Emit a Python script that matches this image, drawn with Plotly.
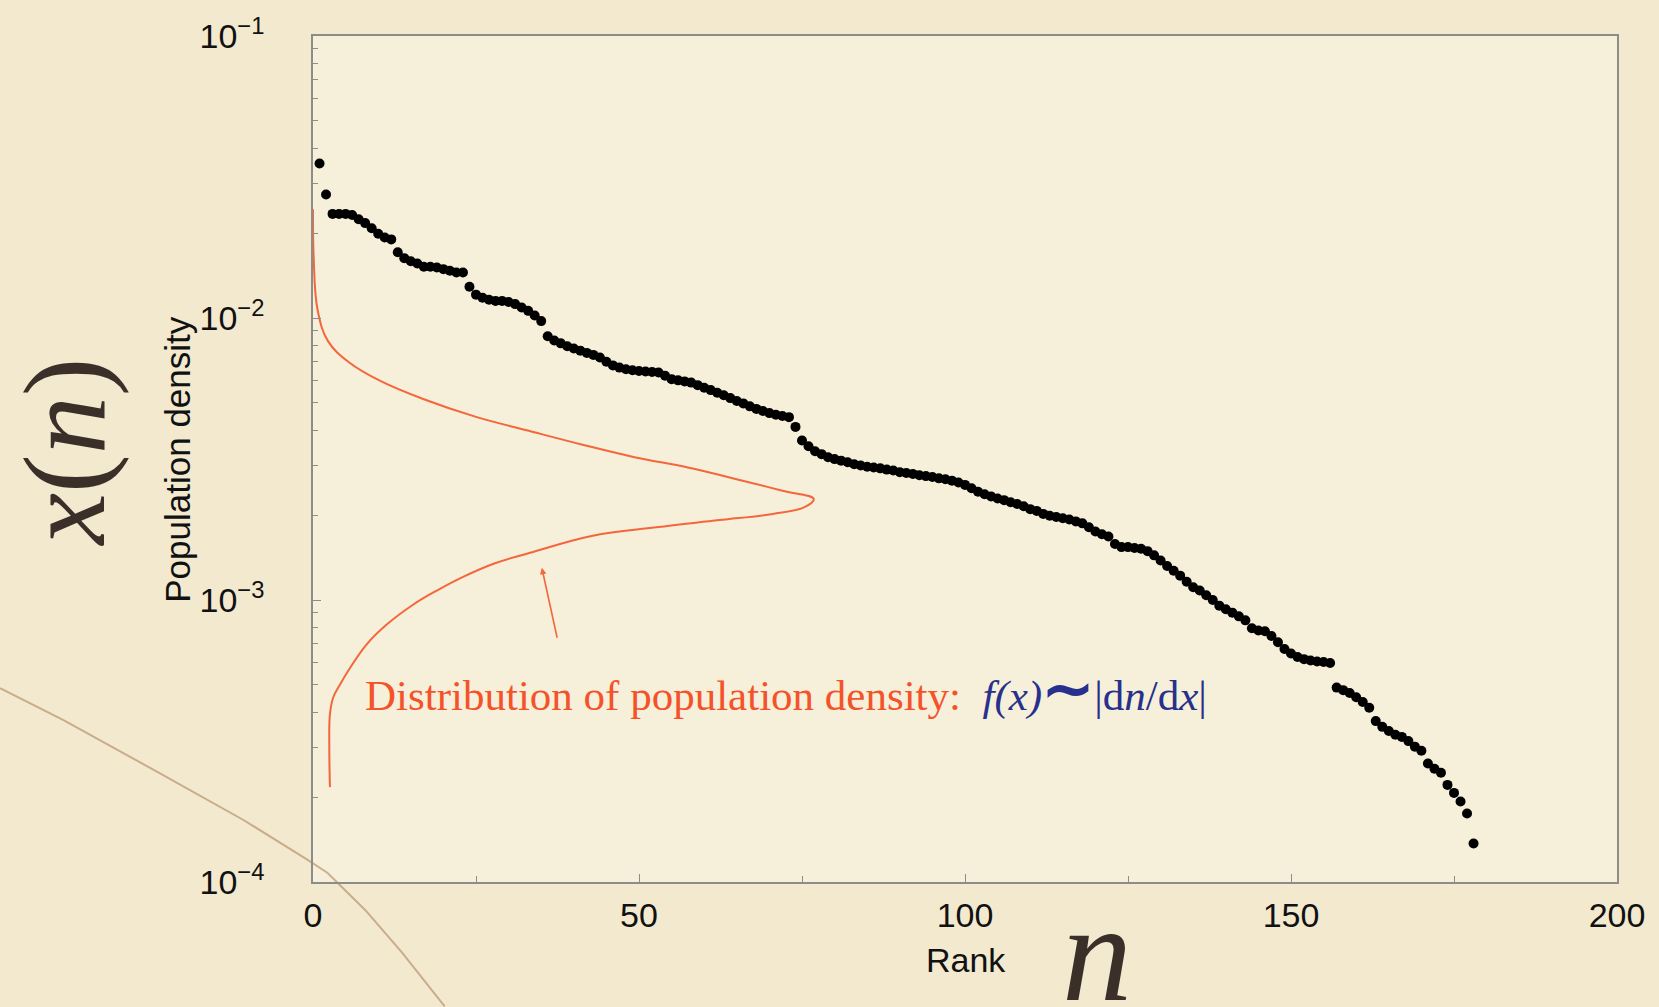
import numpy as np
import plotly.graph_objects as go

# population density by rank
density = [
    0.0353, 0.0274, 0.0234, 0.0234, 0.0234, 0.0232, 0.0224, 0.0217, 0.0208, 0.0199,
    0.0193, 0.0190, 0.0171, 0.0163, 0.0159, 0.0156, 0.0152, 0.0152, 0.0151, 0.0149,
    0.0147, 0.0145, 0.0145, 0.0129, 0.0121, 0.0118, 0.0116, 0.0115, 0.0115, 0.0114,
    0.0112, 0.0109, 0.0106, 0.0102, 0.00975, 0.00861, 0.00832, 0.00813, 0.00794, 0.00780,
    0.00766, 0.00752, 0.00740, 0.00724, 0.00700, 0.00679, 0.00667, 0.00658, 0.00653, 0.00649,
    0.00646, 0.00644, 0.00641, 0.00624, 0.00607, 0.00601, 0.00596, 0.00590, 0.00578, 0.00566,
    0.00555, 0.00543, 0.00532, 0.00520, 0.00508, 0.00498, 0.00486, 0.00476, 0.00468, 0.00460,
    0.00454, 0.00449, 0.00445, 0.00411, 0.00368, 0.00351, 0.00337, 0.00329, 0.00321, 0.00316,
    0.00312, 0.00308, 0.00303, 0.00300, 0.00297, 0.00295, 0.00293, 0.00290, 0.00288, 0.00284,
    0.00282, 0.00280, 0.00277, 0.00275, 0.00273, 0.00270, 0.00268, 0.00265, 0.00261, 0.00256,
    0.00249, 0.00242, 0.00237, 0.00233, 0.00229, 0.00226, 0.00222, 0.00219, 0.00215, 0.00210,
    0.00207, 0.00202, 0.00199, 0.00197, 0.00195, 0.00193, 0.00190, 0.00187, 0.00181, 0.00175,
    0.00171, 0.00168, 0.00158, 0.00154, 0.00154, 0.00153, 0.00152, 0.00149, 0.00144, 0.00138,
    0.00132, 0.00127, 0.00122, 0.00116, 0.00111, 0.00108, 0.00104, 0.00100, 0.000955, 0.000927,
    0.000902, 0.000875, 0.000847, 0.000794, 0.000780, 0.000775, 0.000745, 0.000708, 0.000670, 0.000646,
    0.000628, 0.000617, 0.000610, 0.000605, 0.000603, 0.000598, 0.000489, 0.000479, 0.000468, 0.000452,
    0.000435, 0.000415, 0.000372, 0.000355, 0.000343, 0.000333, 0.000327, 0.000316, 0.000302, 0.000292,
    0.000263, 0.000252, 0.000244, 0.000221, 0.000207, 0.000193, 0.000175, 0.000137,
]
rank = list(range(1, len(density) + 1))

# distribution f(x) drawn sideways (horizontal extent in rank units)
dist_n = [0, 0.1, 0.7, 2.3, 5.5, 10.4, 16.9, 25.0, 33.1, 41.2, 49.3, 57.5, 65.6, 72.0, 76.8,
          75.3, 70.5, 62.3, 52.6, 42.9, 33.3, 27.9, 23.1, 19.0, 15.4, 11.3, 8.2, 5.7, 4.15,
          3.1, 2.6, 2.5, 2.6]
dist_x = [0.0243, 0.0165, 0.0107, 0.00828, 0.00697, 0.00597, 0.00516, 0.00446, 0.00398, 0.00356,
          0.00321, 0.00295, 0.00266, 0.00244, 0.00228,
          0.00213, 0.00202, 0.00192, 0.00181, 0.00169, 0.00147, 0.00135, 0.00121, 0.00108,
          0.000964, 0.000818, 0.000695, 0.000575, 0.000502, 0.000451, 0.000394, 0.000302, 0.000217]

x_ticks = [0, 50, 100, 150, 200]
y_ticks = [1e-4, 1e-3, 1e-2, 1e-1]
y_ticktext = ["10<sup>\u22124</sup>", "10<sup>\u22123</sup>", "10<sup>\u22122</sup>", "10<sup>\u22121</sup>"]
y_minor = [m * 10.0 ** e for e in (-4, -3, -2) for m in range(2, 10)]

RED = "#f4532a"
CURVE = "#f4663c"
NAVY = "#27308c"
INK = "#3a3029"
AXIS = "#8c8c88"
SANS = "Liberation Sans, Arial, sans-serif"
SERIF = "Liberation Serif, Times New Roman, serif"

fig = go.Figure()

fig.add_trace(go.Scatter(
    x=dist_n, y=dist_x, mode="lines",
    line=dict(color=CURVE, width=2, shape="spline", smoothing=1.1),
    hoverinfo="skip", showlegend=False,
))

fig.add_trace(go.Scatter(
    x=rank, y=density, mode="markers",
    marker=dict(color="black", size=10),
    showlegend=False,
))

# arrow pointing at the distribution curve
fig.add_annotation(
    x=35.1, y=np.log10(0.00130), ax=37.5, ay=np.log10(0.000726),
    xref="x", yref="y", axref="x", ayref="y",
    showarrow=True, arrowhead=2, arrowsize=0.8, arrowwidth=1.6, arrowcolor=CURVE, text="",
)

fig.add_annotation(
    x=7.6, y=-3.316, xref="x", yref="y", xanchor="left", yanchor="middle",
    showarrow=False,
    text=(f"<span style='color:{RED}'>Distribution of population density:&nbsp; </span>"
          f"<span style='color:{NAVY}'><i>f(x)</i><b><span style='font-size:62px'>\u223c</span></b>"
          f"|d<i>n</i>/d<i>x</i>|</span>"),
    font=dict(family=SERIF, size=43, color=RED),
)

# axis titles
fig.add_annotation(x=-0.1045, y=0.5, xref="paper", yref="paper", text="Population density",
                   textangle=-90, showarrow=False, xanchor="center", yanchor="middle",
                   font=dict(family=SANS, size=35, color="#111"))
fig.add_annotation(x=0.5008, y=-0.092, xref="paper", yref="paper", text="Rank",
                   showarrow=False, xanchor="center", yanchor="middle",
                   font=dict(family=SANS, size=34, color="#111"))

# big hand-lettered symbols
fig.add_annotation(x=-0.19, y=0.508, xref="paper", yref="paper", text="<i>x</i>(<i>n</i>)",
                   textangle=-90, showarrow=False, xanchor="center", yanchor="middle",
                   font=dict(family=SERIF, size=116, color=INK))
fig.add_annotation(x=0.601, y=-0.083, xref="paper", yref="paper", text="<i>n</i>",
                   showarrow=False, xanchor="center", yanchor="middle",
                   font=dict(family=SERIF, size=140, color=INK))

# faint crack in the paper, bottom left
fig.add_shape(type="path", xref="paper", yref="paper", layer="below",
              path=("M -0.240 0.229 L -0.191 0.191 L -0.118 0.129 L -0.053 0.073 "
                    "L -0.005 0.027 L 0.011 0.011 L 0.040 -0.033 L 0.068 -0.083 L 0.101 -0.147"),
              line=dict(color="rgba(150,100,55,0.45)", width=2))

axis_font = dict(family=SANS, size=34, color="#111")

fig.update_xaxes(
    range=[0, 200], tickvals=x_ticks, ticks="inside", ticklen=8, tickcolor=AXIS,
    showline=True, linecolor=AXIS, linewidth=1.5, mirror=True,
    showgrid=False, zeroline=False, tickfont=axis_font, ticklabelstandoff=2,
    minor=dict(dtick=25, ticks="inside", ticklen=6, tickcolor=AXIS),
)
fig.update_yaxes(
    type="log", range=[-4, -1], tickvals=y_ticks, ticktext=y_ticktext,
    ticks="inside", ticklen=8, tickcolor=AXIS,
    showline=True, linecolor=AXIS, linewidth=1.5, mirror=True,
    showgrid=False, zeroline=False, tickfont=axis_font, ticklabelstandoff=40,
    minor=dict(tickmode="array", tickvals=y_minor, ticks="inside", ticklen=5,
               tickcolor=AXIS, showgrid=False),
)

fig.update_layout(
    width=1659, height=1007,
    margin=dict(l=313, r=42, t=32, b=125),
    paper_bgcolor="#f2e9cf",
    plot_bgcolor="#f6efd9",
    showlegend=False,
)

fig.write_html("out.html", config={"displayModeBar": False},
               post_script="document.body.style.margin='0px';")
